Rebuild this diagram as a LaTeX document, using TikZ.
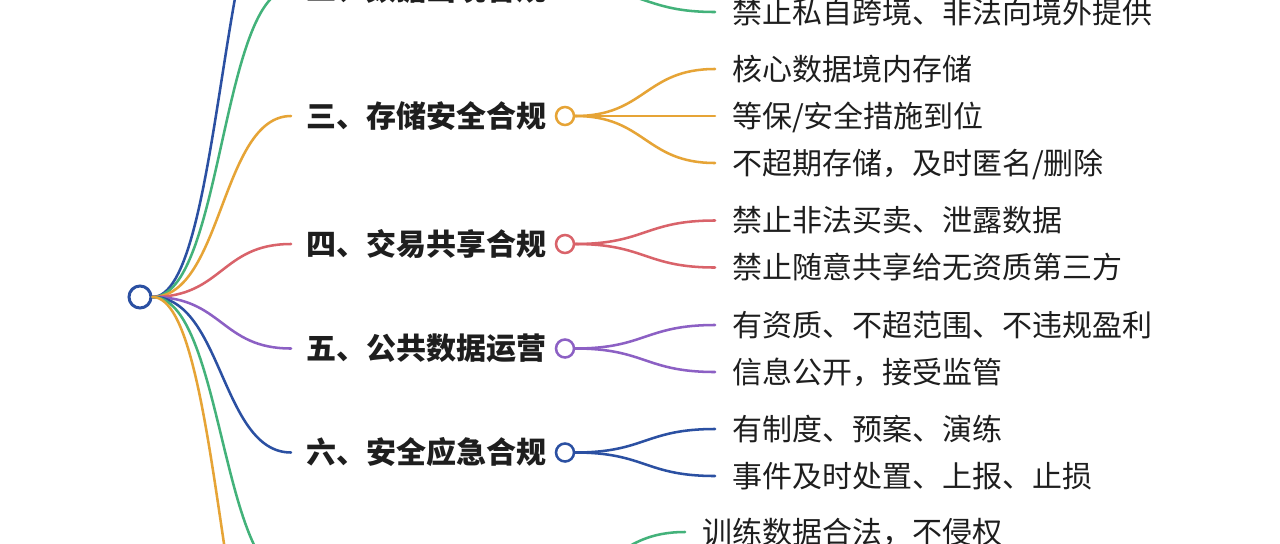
\documentclass[tikz,border=0pt]{standalone}
\usepackage{fontspec}
\setmainfont{Noto Sans CJK SC}
\usetikzlibrary{positioning}
\definecolor{mmblue}{HTML}{2B50A2}
\definecolor{mmgreen}{HTML}{43B27A}
\definecolor{mmorange}{HTML}{E6A436}
\definecolor{mmred}{HTML}{D9636A}
\definecolor{mmpurple}{HTML}{8C60C4}
\definecolor{ink}{HTML}{1E1E1E}

\begin{document}
\begin{tikzpicture}[
  x=0.75pt, y=-0.75pt,
  topic/.style={font=\fontsize{22.5}{26}\selectfont\bfseries, text=ink, inner sep=0pt, text height=19.8pt, text depth=2.7pt, outer xsep=11.25pt, anchor=west},
  leaf/.style={font=\fontsize{22.5}{26}\selectfont, text=ink, inner sep=0pt, text height=19.8pt, text depth=2.7pt, outer xsep=12.75pt, anchor=west},
  knot/.style={circle, draw=#1, fill=white, line width=1.9pt, minimum size=13.5pt, inner sep=0pt},
  link/.style={#1, line width=1.9pt, line cap=round}
]
\useasboundingbox (0,0) rectangle (1280,543);
\fill[white] (0,0) rectangle (1280,543);
\clip (0,0) rectangle (1280,543);

% off-frame ends (branches one, seven and eight)
\coordinate (upper) at (291,-139);
\coordinate (train) at (291,579);
\coordinate (trainK) at (544,579);
\coordinate (lower) at (291,760);

\node[knot=mmblue, minimum size=16.5pt, line width=2.25pt] (root) at (140,297) {};

\node[topic] (cross) at (291,-11) {二、数据出境合规};
\node[knot=mmgreen] (crossK) at (565,-11) {};
\node[leaf] (cross2) at (715,12) {禁止私自跨境、非法向境外提供};

\node[topic] (store) at (291,116) {三、存储安全合规};
\node[knot=mmorange] (storeK) at (565,116) {};
\node[leaf] (store1) at (715,69) {核心数据境内存储};
\node[leaf] (store2) at (715,116) {等保/安全措施到位};
\node[leaf] (store3) at (715,163) {不超期存储，及时匿名/删除};

\node[topic] (trade) at (291,244) {四、交易共享合规};
\node[knot=mmred] (tradeK) at (565,244) {};
\node[leaf] (trade1) at (715,220.5) {禁止非法买卖、泄露数据};
\node[leaf] (trade2) at (715,267.5) {禁止随意共享给无资质第三方};

\node[topic] (public) at (291,348.5) {五、公共数据运营};
\node[knot=mmpurple] (publicK) at (565,348.5) {};
\node[leaf] (public1) at (715,325) {有资质、不超范围、不违规盈利};
\node[leaf] (public2) at (715,372) {信息公开，接受监管};

\node[topic] (emerg) at (291,452.5) {六、安全应急合规};
\node[knot=mmblue] (emergK) at (565,452.5) {};
\node[leaf] (emerg1) at (715,429) {有制度、预案、演练};
\node[leaf] (emerg2) at (715,476) {事件及时处置、上报、止损};

\node[leaf] (train1) at (685,532) {训练数据合法，不侵权};

% root to topics
\draw[link=mmblue] (root.east) .. controls +(70,0) and +(-70,0) .. (upper);
\draw[link=mmgreen] (root.east) .. controls +(70,0) and +(-70,0) .. (cross.west);
\draw[link=mmorange] (root.east) .. controls +(70,0) and +(-70,0) .. (store.west);
\draw[link=mmred] (root.east) .. controls +(70,0) and +(-70,0) .. (trade.west);
\draw[link=mmpurple] (root.east) .. controls +(70,0) and +(-70,0) .. (public.west);
\draw[link=mmblue] (root.east) .. controls +(70,0) and +(-70,0) .. (emerg.west);
\draw[link=mmgreen] (root.east) .. controls +(70,0) and +(-70,0) .. (train);
\draw[link=mmorange] (root.east) .. controls +(70,0) and +(-70,0) .. (lower);

% topics to leaves
\draw[link=mmgreen] (crossK.east) .. controls +(70,0) and +(-70,0) .. (cross2.west);
\draw[link=mmorange] (storeK.east) .. controls +(70,0) and +(-70,0) .. (store1.west);
\draw[link=mmorange] (storeK.east) -- (store2.west);
\draw[link=mmorange] (storeK.east) .. controls +(70,0) and +(-70,0) .. (store3.west);
\draw[link=mmred] (tradeK.east) .. controls +(70,0) and +(-70,0) .. (trade1.west);
\draw[link=mmred] (tradeK.east) .. controls +(70,0) and +(-70,0) .. (trade2.west);
\draw[link=mmpurple] (publicK.east) .. controls +(70,0) and +(-70,0) .. (public1.west);
\draw[link=mmpurple] (publicK.east) .. controls +(70,0) and +(-70,0) .. (public2.west);
\draw[link=mmblue] (emergK.east) .. controls +(70,0) and +(-70,0) .. (emerg1.west);
\draw[link=mmblue] (emergK.east) .. controls +(70,0) and +(-70,0) .. (emerg2.west);
\draw[link=mmgreen] (trainK) .. controls +(70,0) and +(-70,0) .. (train1.west);
\end{tikzpicture}
\end{document}
